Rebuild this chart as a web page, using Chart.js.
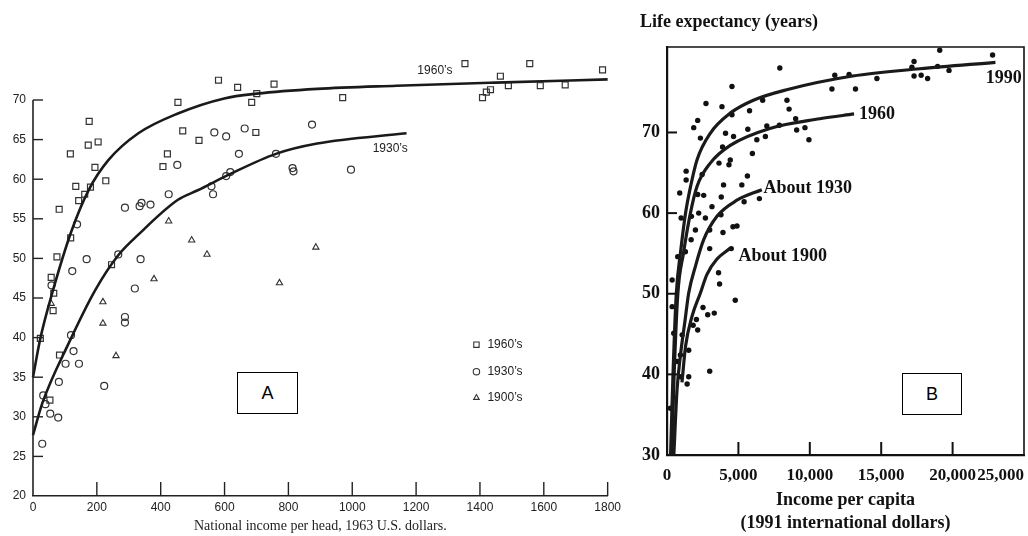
<!DOCTYPE html>
<html>
<head>
<meta charset="utf-8">
<script src="https://cdn.jsdelivr.net/npm/chart.js@4.4.1/dist/chart.umd.min.js"></script>
<style>
html,body{margin:0;padding:0;background:#fff;}
#wrap{position:relative;width:1028px;height:536px;overflow:hidden;background:#fff;}
#ca{position:absolute;left:0;top:0;}
#cb{position:absolute;left:625px;top:0;}
.tag{position:absolute;border:1.6px solid #000;font-family:'Liberation Sans',Arial,sans-serif;font-size:18px;color:#000;display:flex;align-items:center;justify-content:center;background:#fff;box-sizing:border-box;}
</style>
</head>
<body>
<div id="wrap">
  <canvas id="ca" width="625" height="536"></canvas>
  <canvas id="cb" width="403" height="536"></canvas>
  <div class="tag" style="left:237px;top:372px;width:61px;height:42px;">A</div>
  <div class="tag" style="left:902px;top:373px;width:60px;height:42px;">B</div>
</div>
<script>
// ---------- Panel A data (national income per head, 1963 US$ vs life expectancy) ----------
const aSq60X = [581,641,755,701,685,698,454,469,520,421,407,176,173,204,117,194,228,134,180,162,143,82,118,75,57,65,63,23,83,53,246,970,1353,1556,1784,1464,1408,1420,1433,1489,1589,1667];
const aSq60Y = [72.5,71.6,72.0,70.8,69.7,65.9,69.7,66.1,64.9,63.2,61.6,67.3,64.3,64.7,63.2,61.5,59.8,59.1,59.0,58.1,57.3,56.2,52.6,50.2,47.6,45.6,43.4,39.9,37.8,32.1,49.2,70.3,74.6,74.6,73.8,73.0,70.3,71.0,71.3,71.8,71.8,71.9];
const aCi30X = [874,663,568,605,645,761,813,816,452,605,618,559,564,425,288,334,340,368,138,168,123,267,337,319,58,996,288,288,119,127,102,144,81,223,32,39,54,79,29];
const aCi30Y = [66.9,66.4,65.9,65.4,63.2,63.2,61.4,61.0,61.8,60.4,60.9,59.1,58.1,58.1,56.4,56.6,57.0,56.8,54.3,49.9,48.4,50.5,49.9,46.2,46.6,61.2,42.6,41.9,40.3,38.3,36.7,36.7,34.4,33.9,32.7,31.6,30.4,29.9,26.6];
const aTr00X = [57,219,219,260,425,497,545,379,772,886];
const aTr00Y = [44.3,44.5,41.8,37.7,54.7,52.3,50.5,47.4,46.9,51.4];
const aFit60X = [0,23,60,120,174,236,330,454,599,701,890,1138,1449,1800];
const aFit60Y = [35.0,39.9,45.6,53.4,58.6,62.4,65.8,68.3,70.2,70.8,71.4,71.8,72.2,72.6];
const aFit30X = [0,29,112,195,267,330,454,516,620,761,890,1170];
const aFit30Y = [27.7,31.7,39.3,46.0,50.4,53.0,57.4,58.6,60.7,63.2,64.5,65.8];
const aXTicks = [200,400,600,800,1000,1200,1400,1600,1800];
const aYTicks = [25,30,35,40,45,50,55,60,65,70];
const aCurveLabelText = ['1960\u2019s','1930\u2019s'];
const aCurveLabelX = [1259,1119];
const aCurveLabelY = [73.7,63.8];
const aLegendText = ['1960\u2019s','1930\u2019s','1900\u2019s'];
const aLegendStyle = ['rect','circle','triangle'];
const aLegendX = 1389;
const aLegendY = [39.1,35.7,32.4];

// ---------- Panel B data (income per capita, 1991 intl $ vs life expectancy) ----------
const bDotX = [19100,22800,17300,17150,18950,19750,17300,17800,18250,7900,11750,12750,14700,11550,13200,4550,2730,3850,6700,8400,8550,2150,1870,2340,4550,5780,4100,4660,5660,6290,6890,6990,7870,9080,9660,9940,9010,3890,5980,3640,4430,4340,2460,5630,1340,1340,890,2150,2570,3960,5240,5400,6470,3800,2690,3150,3780,2990,3920,4620,4900,2990,4500,990,750,1290,1690,1990,1710,2220,360,3610,3680,4780,2520,2850,3310,2060,1830,2150,1520,940,710,940,1520,1410,2990,470,1060,240,360];
const bDotY = [80.2,79.6,78.8,78.1,78.2,77.7,77.0,77.1,76.7,78.0,77.1,77.2,76.7,75.4,75.4,75.7,73.6,73.2,74.0,74.0,72.9,71.5,70.6,69.3,72.2,72.7,69.9,69.5,70.4,69.1,69.5,70.8,70.9,70.3,70.6,69.1,71.7,68.2,67.4,66.2,66.6,66.0,64.8,64.6,65.2,64.1,62.5,62.3,62.2,63.5,63.5,61.4,61.8,62.0,59.4,60.8,59.8,57.9,57.6,58.3,58.4,55.6,55.6,59.4,54.6,55.2,56.7,57.9,59.6,60.0,48.4,52.6,51.2,49.2,48.3,47.4,47.6,46.8,46.1,45.5,43.0,42.4,41.6,39.7,39.7,38.8,40.4,45.1,44.9,35.8,51.7];
const b1990X = [250,420,650,940,1300,1650,2100,3030,4430,6050,8380,13000,17700,23000];
const b1990Y = [30,40,50,55,60,63.3,66.6,69.9,72.4,74.0,75.3,77.0,77.9,78.7];
const b1960X = [330,500,760,1150,1640,2100,3030,4430,7200,10700,13100];
const b1960Y = [30,40,50,55,60,63.3,66.2,68.4,70.5,71.7,72.3];
const b1930X = [480,700,950,1250,1520,1990,2570,3500,4900,6640];
const b1930Y = [30,38,42.5,46.5,50.1,53.4,56.7,59.6,61.6,62.9];
const b1900X = [1050,1300,1750,2340,2800,3500,4400];
const b1900Y = [39,43.5,47.2,50.1,52.4,54.3,55.6];
const bXTicks = [5000,10000,15000,20000];
const bYTicks = [40,50,60,70];
const bCurveLabelText = ['1990','1960','About 1930','About 1900'];
const bCurveLabelX = [22330,13445,6750,5007];
const bCurveLabelY = [76.7,72.3,63.1,54.6];

// ---------- helpers ----------
const fontA = "'Liberation Sans', Arial, sans-serif";
const fontAT = "'Liberation Serif', 'Times New Roman', serif";
const fontB = "'Liberation Serif', 'Times New Roman', serif";
const ink = '#1a1a1a';
function pts(xs, ys){ return xs.map((x,i)=>({x:x, y:ys[i]})); }

const annoA = {
  id:'annoA',
  afterDraw(chart){
    const ctx = chart.ctx, x = chart.scales.x, y = chart.scales.y;
    ctx.save();
    ctx.strokeStyle = '#222'; ctx.lineWidth = 1.6;
    const x0 = x.getPixelForValue(0), y0 = y.getPixelForValue(20), yTop = y.getPixelForValue(70);
    ctx.beginPath(); ctx.moveTo(x0, y0); ctx.lineTo(x0, yTop); ctx.stroke();
    ctx.lineWidth = 1.4;
    aYTicks.forEach(v => { const py = y.getPixelForValue(v); ctx.beginPath(); ctx.moveTo(x0, py); ctx.lineTo(x0 + 10, py); ctx.stroke(); });
    aXTicks.forEach(v => { const px = x.getPixelForValue(v); ctx.beginPath(); ctx.moveTo(px, y0); ctx.lineTo(px, y0 - 14); ctx.stroke(); });
    ctx.fillStyle = '#222'; ctx.font = '12px ' + fontA; ctx.textAlign = 'center'; ctx.textBaseline = 'middle';
    aCurveLabelText.forEach((t,i) => ctx.fillText(t, x.getPixelForValue(aCurveLabelX[i]), y.getPixelForValue(aCurveLabelY[i])));
    const lx = x.getPixelForValue(aLegendX);
    aLegendText.forEach((t,i) => {
      const py = y.getPixelForValue(aLegendY[i]);
      ctx.fillStyle = 'rgba(0,0,0,0)'; ctx.strokeStyle = '#333'; ctx.lineWidth = 1.1;
      Chart.helpers.drawPoint(ctx, {pointStyle: aLegendStyle[i], radius: aLegendStyle[i]==='rect'?3.8:3.2, borderWidth:1.1, rotation:0}, lx, py);
      ctx.fillStyle = '#222'; ctx.textAlign = 'left';
      ctx.fillText(t, lx + 11, py);
    });
    ctx.restore();
  }
};

const annoB = {
  id:'annoB',
  afterDraw(chart){
    const ctx = chart.ctx, x = chart.scales.x, y = chart.scales.y, ca = chart.chartArea;
    ctx.save();
    ctx.strokeStyle = '#111'; ctx.lineWidth = 1.6;
    ctx.beginPath(); ctx.moveTo(ca.left, ca.top); ctx.lineTo(ca.right, ca.top); ctx.lineTo(ca.right, ca.bottom); ctx.stroke();
    ctx.lineWidth = 2;
    const x0 = x.getPixelForValue(0), y0 = y.getPixelForValue(30);
    bYTicks.forEach(v => { const py = y.getPixelForValue(v); ctx.beginPath(); ctx.moveTo(x0, py); ctx.lineTo(x0 + 10, py); ctx.stroke(); });
    bXTicks.forEach(v => { const px = x.getPixelForValue(v); ctx.beginPath(); ctx.moveTo(px, y0); ctx.lineTo(px, y0 - 13); ctx.stroke(); });
    ctx.fillStyle = '#111'; ctx.font = 'bold 18px ' + fontB; ctx.textAlign = 'left'; ctx.textBaseline = 'middle';
    bCurveLabelText.forEach((t,i) => ctx.fillText(t, x.getPixelForValue(bCurveLabelX[i]), y.getPixelForValue(bCurveLabelY[i])));
    ctx.fillText('Life expectancy (years)', ca.left - 27, 22);
    ctx.restore();
  }
};

Chart.defaults.animation = false;

const lineStyle = (w) => ({showLine:true, pointRadius:0, borderColor:ink, borderWidth:w, cubicInterpolationMode:'monotone', fill:false, clip:false});

new Chart(document.getElementById('ca'), {
  type:'scatter',
  data:{ datasets:[
    Object.assign({label:'1960s fit', data:pts(aFit60X, aFit60Y)}, lineStyle(2.6)),
    Object.assign({label:'1930s fit', data:pts(aFit30X, aFit30Y)}, lineStyle(2.6)),
    {label:'1960\u2019s', data:pts(aSq60X, aSq60Y), pointStyle:'rect', pointRadius:4.2, backgroundColor:'rgba(0,0,0,0)', borderColor:'#333', borderWidth:1.2, clip:false},
    {label:'1930\u2019s', data:pts(aCi30X, aCi30Y), pointStyle:'circle', pointRadius:3.5, backgroundColor:'rgba(0,0,0,0)', borderColor:'#333', borderWidth:1.2, clip:false},
    {label:'1900\u2019s', data:pts(aTr00X, aTr00Y), pointStyle:'triangle', pointRadius:3.6, backgroundColor:'rgba(0,0,0,0)', borderColor:'#333', borderWidth:1.1, clip:false}
  ]},
  options:{
    responsive:false, animation:false, events:[],
    layout:{padding:{top:60.4, right:13, left:0, bottom:0}},
    plugins:{legend:{display:false}, tooltip:{enabled:false}},
    scales:{
      x:{type:'linear', min:0, max:1800,
         ticks:{stepSize:200, color:'#222', font:{family:fontA, size:12}, padding:4, maxRotation:0, autoSkip:false,
                callback:(v) => String(v)},
         grid:{display:false, drawTicks:false}, border:{display:true, color:'#222', width:1.6},
         title:{display:true, text:'National income per head, 1963 U.S. dollars.', color:'#222', font:{family:fontAT, size:14, lineHeight:1.2}, padding:{top:0, bottom:1}},
         afterFit(s){ s.height = 40; }},
      y:{type:'linear', min:20, max:75,
         ticks:{stepSize:5, color:'#222', font:{family:fontA, size:12}, padding:7},
         afterBuildTicks(s){ s.ticks = s.ticks.filter(t => t.value <= 70); },
         grid:{display:false, drawTicks:false}, border:{display:false},
         afterFit(s){ s.width = 33; }}
    }
  },
  plugins:[annoA]
});

new Chart(document.getElementById('cb'), {
  type:'scatter',
  data:{ datasets:[
    Object.assign({label:'1990', data:pts(b1990X, b1990Y)}, lineStyle(3.2), {clip:true}),
    Object.assign({label:'1960', data:pts(b1960X, b1960Y)}, lineStyle(3.2), {clip:true}),
    Object.assign({label:'About 1930', data:pts(b1930X, b1930Y)}, lineStyle(3.2), {clip:true}),
    Object.assign({label:'About 1900', data:pts(b1900X, b1900Y)}, lineStyle(3.2), {clip:true}),
    {label:'countries', data:pts(bDotX, bDotY), pointStyle:'circle', pointRadius:2.7, backgroundColor:'#111', borderColor:'#111', borderWidth:0}
  ]},
  options:{
    responsive:false, animation:false, events:[],
    layout:{padding:{top:47, right:3, left:0, bottom:0}},
    plugins:{legend:{display:false}, tooltip:{enabled:false}},
    scales:{
      x:{type:'linear', min:0, max:25000,
         ticks:{stepSize:5000, color:'#111', font:{family:fontB, size:17, weight:'bold'}, padding:10, maxRotation:0, autoSkip:false,
                callback:(v) => v === 25000 ? '25,000' + '\u00a0'.repeat(11) : Number(v).toLocaleString('en-US')},
         grid:{display:false, drawTicks:false}, border:{display:true, color:'#111', width:2.2},
         title:{display:true, text:['Income per capita','(1991 international dollars)'], color:'#111', font:{family:fontB, size:18, weight:'bold', lineHeight:1.28}, padding:{top:0, bottom:1.5}},
         afterFit(s){ s.height = 81; s.paddingRight = 0; }},
      y:{type:'linear', min:30, max:80.6,
         ticks:{stepSize:10, color:'#111', font:{family:fontB, size:18, weight:'bold'}, padding:7},
         afterBuildTicks(s){ s.ticks = s.ticks.filter(t => t.value % 10 === 0); },
         grid:{display:false, drawTicks:false}, border:{display:true, color:'#111', width:2.2},
         afterFit(s){ s.width = 42; }}
    }
  },
  plugins:[annoB]
});
</script>
</body>
</html>
